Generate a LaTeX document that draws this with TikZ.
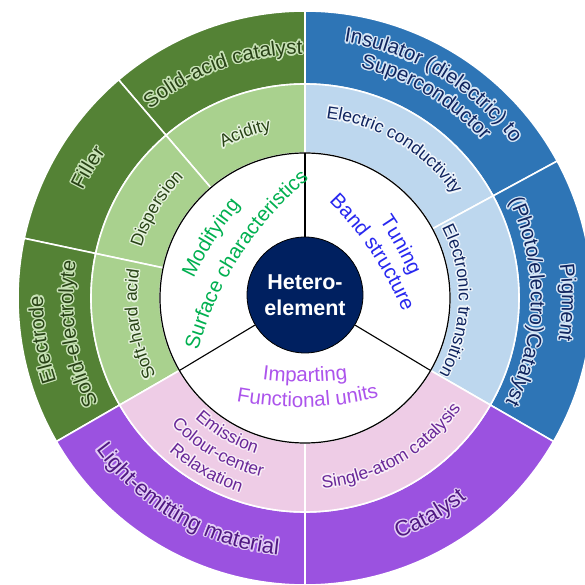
\documentclass[tikz,border=0pt]{standalone}
\usepackage{fontspec}
\setmainfont{Liberation Sans}
\usetikzlibrary{decorations.text}

\definecolor{navyHub}{RGB}{0,32,96}
\definecolor{greenDark}{RGB}{84,130,53}
\definecolor{greenLight}{RGB}{169,209,142}
\definecolor{blueDark}{RGB}{46,117,182}
\definecolor{blueLight}{RGB}{189,215,238}
\definecolor{purpleDark}{RGB}{155,82,224}
\definecolor{pinkLight}{RGB}{238,204,230}
\definecolor{greenTxt}{RGB}{40,66,22}
\definecolor{greenGlow}{RGB}{200,226,182}
\definecolor{greenGlowL}{RGB}{230,243,222}
\definecolor{blueTxt}{RGB}{16,36,94}
\definecolor{blueGlow}{RGB}{214,230,246}
\definecolor{blueGlowL}{RGB}{240,246,252}
\definecolor{purpleTxt}{RGB}{80,24,130}
\definecolor{purpleGlow}{RGB}{226,204,246}
\definecolor{pinkTxt}{RGB}{104,40,152}
\definecolor{pinkGlow}{RGB}{250,238,248}
\definecolor{modGreen}{RGB}{0,176,80}
\definecolor{tuneBlue}{RGB}{40,40,240}
\definecolor{impPurple}{RGB}{172,84,236}

\newcommand{\fOuter}{\fontsize{20.5}{24}\selectfont}
\newcommand{\fOuterP}{\fontsize{22}{26}\selectfont}
\newcommand{\fMiddle}{\fontsize{17.5}{21}\selectfont}
\newcommand{\fInner}{\fontsize{20.5}{24}\selectfont}

% ring sector: colour, inner r, outer r, from angle, to angle
\newcommand{\ringsector}[5]{\path[sector, fill=#1] (#4:#2) arc[start angle=#4, end angle=#5, radius=#2] -- (#5:#3) arc[start angle=#5, end angle=#4, radius=#3] -- cycle;}

% arc text: colour, font, arc centre, radius, from, to, text
\newcommand{\arctext}[7]{%
  \path[shift={(#3)}, decorate, decoration={text along path, text align=center, text color=#1, text={|#2|#7}}] (#5:#4) arc[start angle=#5, end angle=#6, radius=#4];}

% arc text with a soft halo: colour, halo colour, font, radius, from, to, text
\newcommand{\glowtext}[7]{%
  \foreach \g in {0,30,...,330}
    \path[shift={(\g:1.4)}, decorate, decoration={text along path, text align=center, text color=#2, text={|#3|#7}}] (#5:#4) arc[start angle=#5, end angle=#6, radius=#4];
  \arctext{#1}{#3}{0:0}{#4}{#5}{#6}{#7}}

\begin{document}
\begin{tikzpicture}[x=1pt,y=1pt,
  sector/.style={draw=white, line width=1.6pt},
  spoke/.style={draw=black, line width=1.1pt},
  hub/.style={circle, fill=navyHub, draw=black, line width=0.8pt, minimum size=116pt, inner sep=0pt, align=center, text=white, font=\fontsize{21.5}{26}\selectfont\bfseries}]
\useasboundingbox (-305,-287) rectangle (279,298);

%Shape: Outer ring
\ringsector{greenDark}{214}{287}{90}{130.5}
\ringsector{greenDark}{214}{287}{130.5}{168}
\ringsector{greenDark}{214}{287}{168}{210}
\ringsector{blueDark}{214}{287}{28.5}{90}
\ringsector{blueDark}{214}{287}{-30}{28.5}
\ringsector{purpleDark}{214}{287}{210}{270}
\ringsector{purpleDark}{214}{287}{270}{330}
%Shape: Middle ring
\ringsector{greenLight}{145}{214}{90}{130.5}
\ringsector{greenLight}{145}{214}{130.5}{168}
\ringsector{greenLight}{145}{214}{168}{210}
\ringsector{blueLight}{145}{214}{28.5}{90}
\ringsector{blueLight}{145}{214}{-30}{28.5}
\ringsector{pinkLight}{145}{214}{210}{270}
\ringsector{pinkLight}{145}{214}{270}{330}
%Shape: Inner disc
\draw[fill=white, line width=1.2pt] (0,0) circle[radius=145];

%Shape: Centre
\node[hub] (hub) at (0,3) {Hetero-\\element};
\coordinate (s1) at (90:145);
\coordinate (s2) at (210:145);
\coordinate (s3) at (330:145);
%Straight Lines
\draw[spoke] (hub) -- (s1);
\draw[spoke] (hub) -- (s2);
\draw[spoke] (hub) -- (s3);

% Text Node: outer ring
\glowtext{greenTxt}{greenGlow}{\fOuter}{244}{150}{70}{Solid-acid catalyst}
\glowtext{greenTxt}{greenGlow}{\fOuter}{247}{189}{109}{Filler}
\glowtext{greenTxt}{greenGlow}{\fOuter}{262}{229}{149}{Electrode}
\glowtext{greenTxt}{greenGlow}{\fOuter}{232}{229}{149}{Solid-electrolyte}
\glowtext{blueTxt}{blueGlow}{\fOuter}{259}{104}{14}{Insulator (dielectric) to}
\glowtext{blueTxt}{blueGlow}{\fOuter}{237}{104}{14}{Superconductor}
\glowtext{blueTxt}{blueGlow}{\fOuter}{257}{39}{-41}{Pigment}
\glowtext{blueTxt}{blueGlow}{\fOuter}{226}{39}{-41}{(Photo/electro)Catalyst}
\glowtext{purpleTxt}{purpleGlow}{\fOuterP}{258}{190}{290}{Light-emitting material}
\glowtext{purpleTxt}{purpleGlow}{\fOuterP}{258}{260}{340}{Catalyst}

% Text Node: middle ring
\glowtext{greenTxt}{greenGlowL}{\fMiddle}{171}{150}{70}{Acidity}
\glowtext{greenTxt}{greenGlowL}{\fMiddle}{171}{189}{109}{Dispersion}
\glowtext{greenTxt}{greenGlowL}{\fMiddle}{168}{229}{149}{Soft-hard acid}
\glowtext{blueTxt}{blueGlowL}{\fMiddle}{181}{109}{9}{Electric conductivity}
\glowtext{blueTxt}{blueGlowL}{\fMiddle}{154}{50}{-52}{Electronic transition}
\glowtext{pinkTxt}{pinkGlow}{\fMiddle}{191}{250}{350}{Single-atom catalysis}
\glowtext{pinkTxt}{pinkGlow}{\fMiddle}{163}{200}{280}{Emission}
\glowtext{pinkTxt}{pinkGlow}{\fMiddle}{184}{200}{280}{Colour-center}
\glowtext{pinkTxt}{pinkGlow}{\fMiddle}{205}{200}{280}{Relaxation}

% Text Node: inner ring
\arctext{modGreen}{\fInner}{147.5:-233}{340}{172.5}{122.5}{Modifying}
\arctext{modGreen}{\fInner}{147:-263}{340}{172}{122}{Surface characteristics}
\arctext{tuneBlue}{\fInner}{29:-236}{340}{54}{4}{Tuning}
\arctext{tuneBlue}{\fInner}{34:-260}{340}{59}{9}{Band structure}
\arctext{impPurple}{\fInner}{270:-256}{340}{245}{295}{Imparting}
\arctext{impPurple}{\fInner}{271.5:-231}{340}{246.5}{296.5}{Functional units}

\end{tikzpicture}
\end{document}
